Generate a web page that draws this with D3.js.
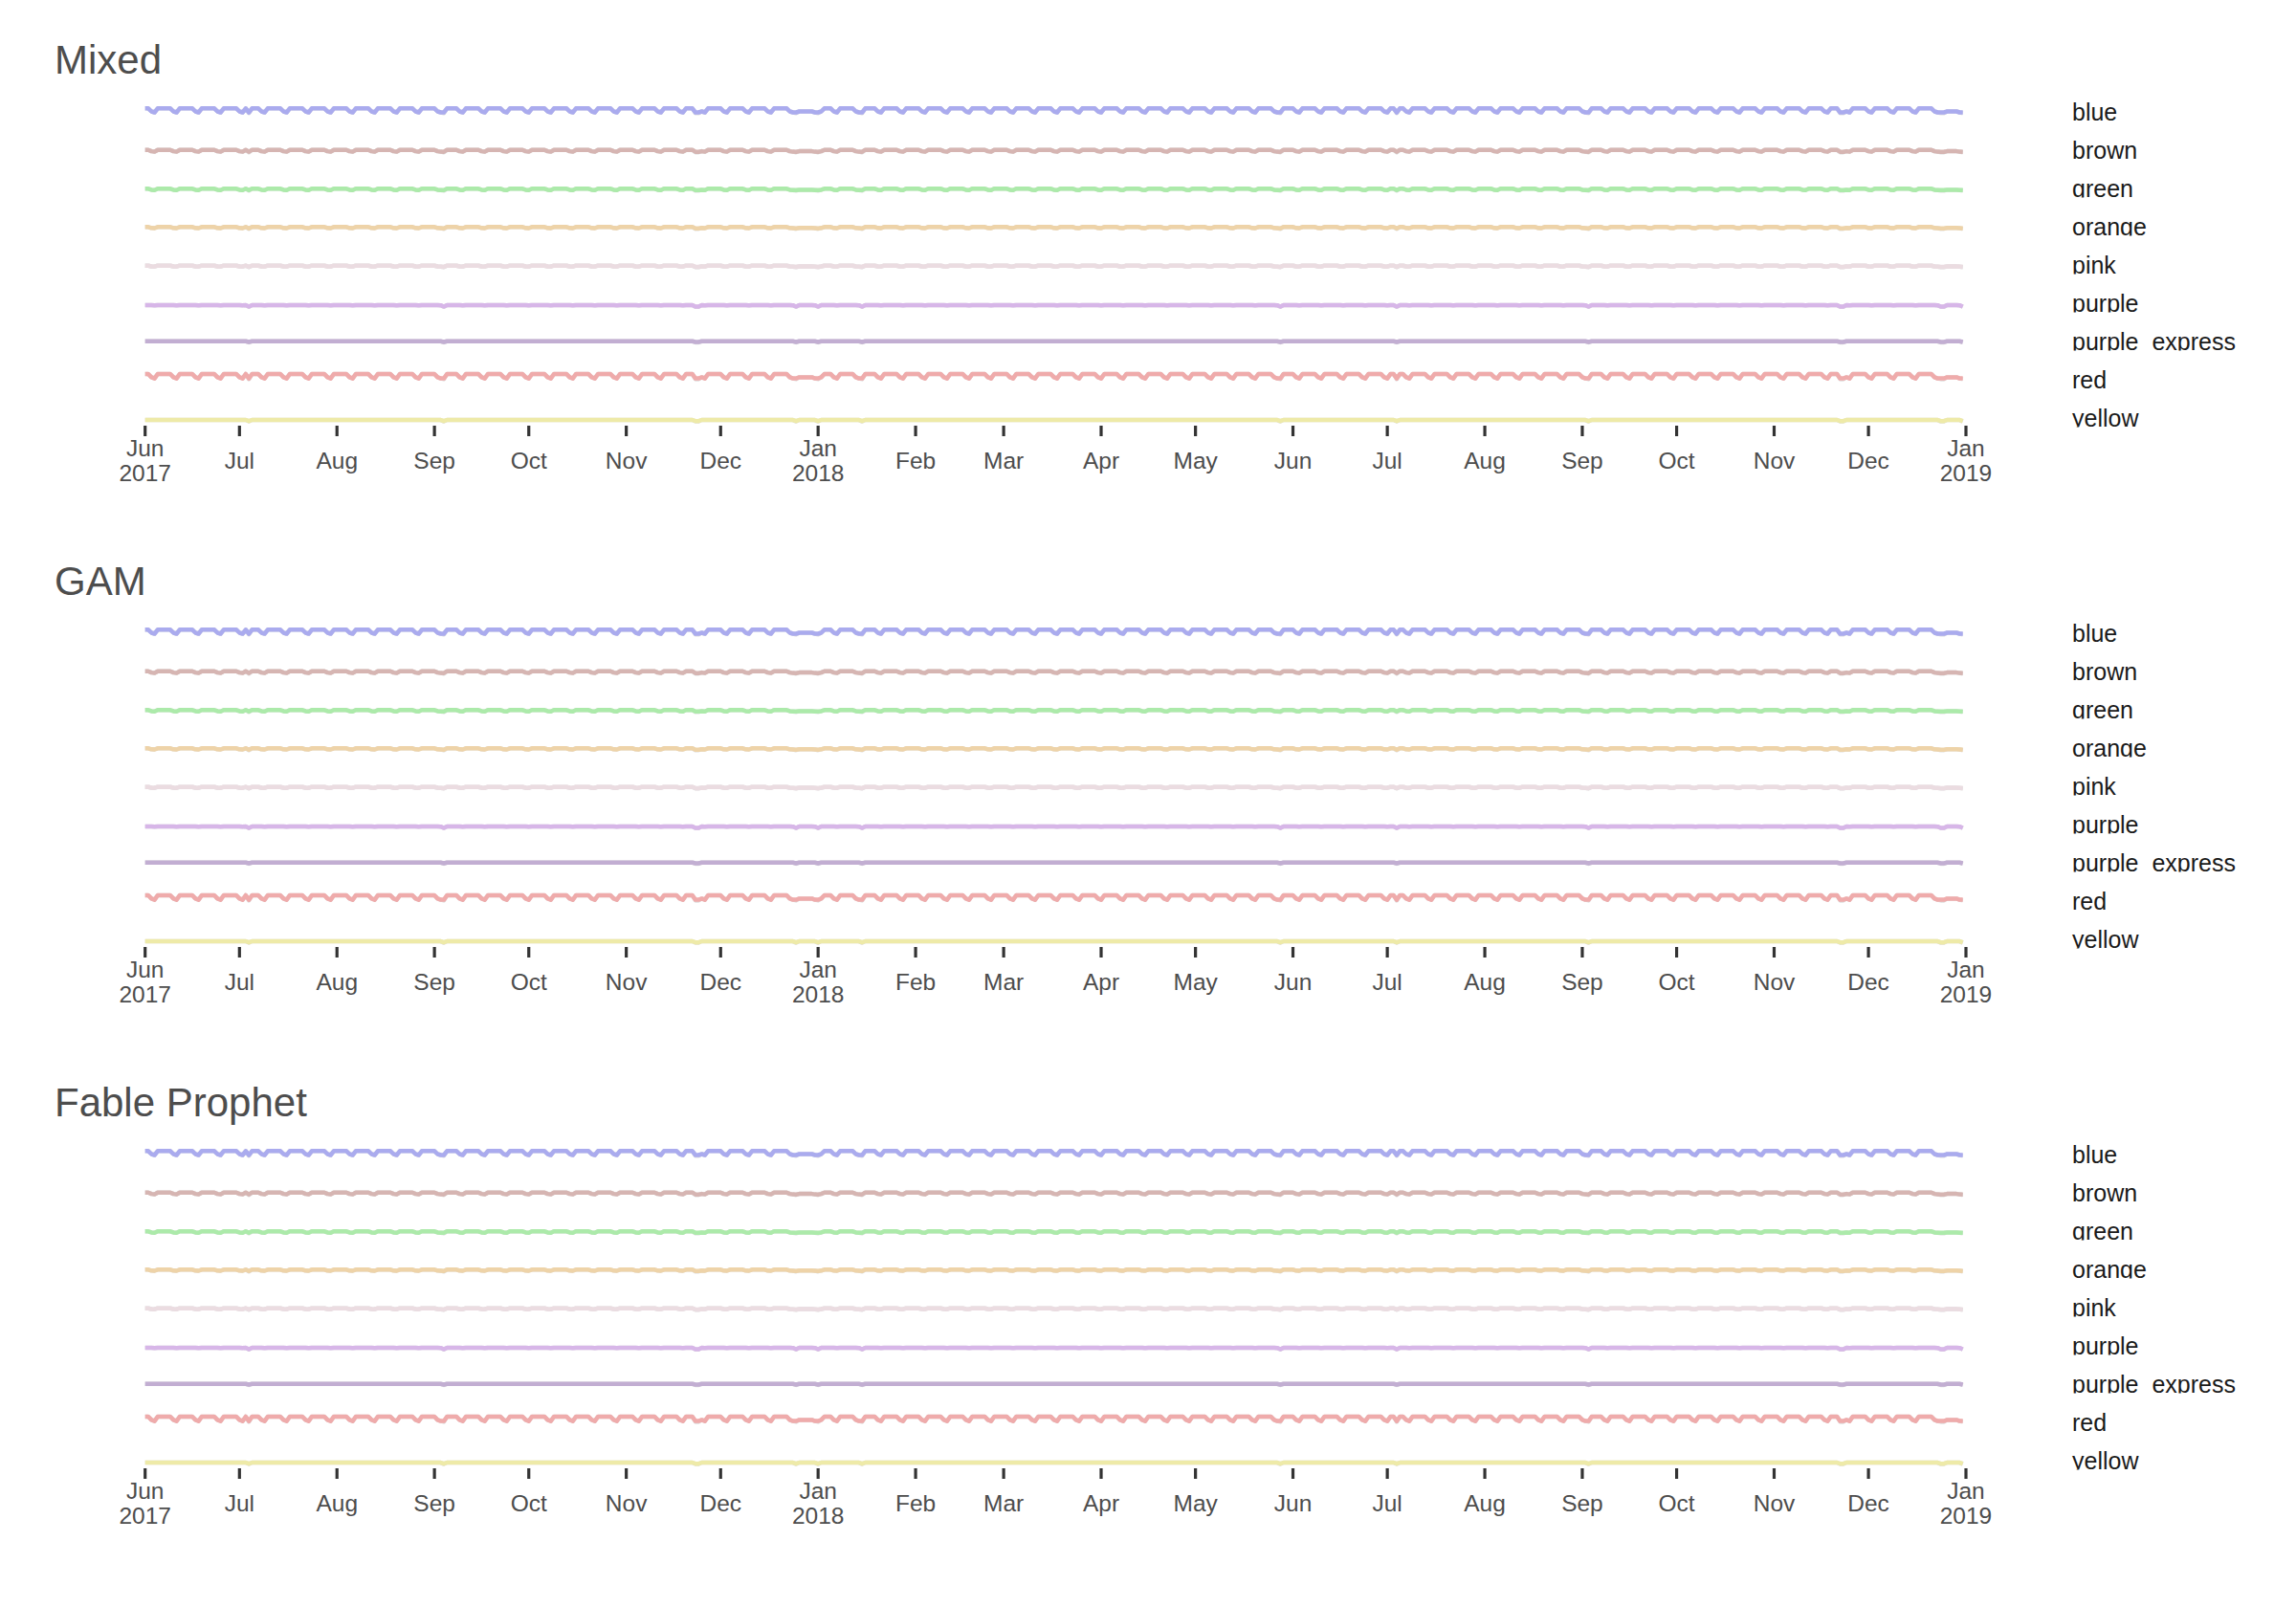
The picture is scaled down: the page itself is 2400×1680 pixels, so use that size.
<!DOCTYPE html>
<html><head><meta charset="utf-8">
<script src="https://cdn.jsdelivr.net/npm/d3@7"></script>
<style>body{margin:0;background:#fff}</style></head>
<body><svg id="chart" width="2400" height="1680"></svg>
<script>
// ---------- data ----------
const lineNames = ["blue","brown","green","orange","pink","purple","purple_express","red","yellow"];
const lineColors = ["#aaabee","#d6b5b2","#aceaaa","#eed3a8","#ebdce1","#d7b6e8","#c2aed2","#efabab","#eeeaa8"];
const modelNames = ["Mixed","GAM","Fable Prophet"];
const seriesStart = "2017-06-01";
const seriesEnd = "2018-12-31";
const axisStart = "2017-06-01";
const axisEnd = "2019-01-01";
// daily levels (index units), per line
const weekdayLevel  = [87, 53, 47, 47, 43, 30, 53, 110, 30];
const saturdayLevel = [55, 39, 36, 37, 35, 30, 53, 76, 30];
const sundayLevel   = [45, 34, 33, 35, 33, 28, 52, 64, 29];
const holidayLevel  = [45, 33, 32, 33, 31, 15, 45, 64, 18];
const actualHolidayLevel = [38, 28, 28, 28, 28, 12, 40, 56, 14];
const holidayDates = ["2017-07-04","2017-09-04","2017-11-23","2017-11-24","2017-12-25","2018-01-01",
  "2018-01-15","2018-05-28","2018-07-04","2018-09-03","2018-11-22","2018-11-23","2018-12-24","2018-12-25","2018-12-31"];
const reducedServiceDates = ["2017-12-26","2017-12-27","2017-12-28","2017-12-29","2018-01-02",
  "2018-12-26","2018-12-27","2018-12-28"];

// ---------- layout ----------
const svg = d3.select("#chart");
const panelStep = 545;
const fmtKey = d3.utcFormat("%Y-%m-%d");
const parse = d3.utcParse("%Y-%m-%d");
const holidaySet = new Set(holidayDates);
const reducedSet = new Set(reducedServiceDates);
const days = d3.utcDay.range(parse(seriesStart), d3.utcDay.offset(parse(seriesEnd), 1));

function levelFor(date, k, actual) {
  const key = fmtKey(date);
  if (holidaySet.has(key)) return actual ? actualHolidayLevel[k] : holidayLevel[k];
  if (reducedSet.has(key)) return saturdayLevel[k];
  const dow = date.getUTCDay();
  if (dow === 6) return saturdayLevel[k];
  if (dow === 0) return sundayLevel[k];
  return weekdayLevel[k];
}

const x = d3.scaleUtc().domain([parse(axisStart), parse(axisEnd)]).range([151.7, 2055]);
const yName = d3.scalePoint().domain(lineNames).range([118, 438]);
const vOff = d3.scaleLinear().domain([0, 100]).range([4, -6]);
const monthFmt = d3.utcFormat("%b");
const yearFmt = d3.utcFormat("%Y");
const ticks = x.ticks(d3.utcMonth.every(1));
const font = "Liberation Sans, Arial, Helvetica, sans-serif";

modelNames.forEach((model, i) => {
  const g = svg.append("g").attr("transform", `translate(0,${i * panelStep})`);
  g.append("text").attr("x", 57).attr("y", 77)
    .attr("font-family", font).attr("font-size", 42)
    .attr("fill", "#4d4d4d").text(model);

  lineNames.forEach((name, k) => {
    const actual = days.map(d => ({date: d, value: levelFor(d, k, true)}));
    const pred = days.map(d => ({date: d, value: levelFor(d, k, false)}));
    const line = d3.line().x(d => x(d.date)).y(d => yName(name) + vOff(d.value));
    g.append("path").datum(actual).attr("d", line).attr("fill", "none")
      .attr("stroke", "#dedede").attr("stroke-width", 4.5).attr("stroke-linejoin", "round");
    g.append("path").datum(pred).attr("d", line).attr("fill", "none")
      .attr("stroke", lineColors[k]).attr("stroke-width", 4.5).attr("stroke-linejoin", "round");

    // strip label (clipped at baseline)
    const base = yName(name) + 7.5;
    const cid = `clip-${i}-${k}`;
    g.append("clipPath").attr("id", cid).append("rect")
      .attr("x", 2150).attr("y", base - 30).attr("width", 250).attr("height", 31);
    g.append("text").attr("clip-path", `url(#${cid})`)
      .attr("x", 2166).attr("y", base)
      .attr("font-family", font).attr("font-size", 25)
      .attr("fill", "#1a1a1a").text(name);
  });

  // x axis
  const ax = g.append("g");
  ticks.forEach(t => {
    const tx = x(t);
    ax.append("line").attr("x1", tx).attr("x2", tx).attr("y1", 445).attr("y2", 456)
      .attr("stroke", "#333").attr("stroke-width", 3.2);
    const txt = ax.append("text").attr("text-anchor", "middle")
      .attr("font-family", font).attr("font-size", 24.5)
      .attr("fill", "#4d4d4d");
    const twoLine = (t.getUTCMonth() === 0) || (+t === +ticks[0]);
    if (twoLine) {
      txt.append("tspan").attr("x", tx).attr("y", 477).text(monthFmt(t));
      txt.append("tspan").attr("x", tx).attr("y", 503).text(yearFmt(t));
    } else {
      txt.attr("x", tx).attr("y", 490).text(monthFmt(t));
    }
  });
});
</script></body></html>
